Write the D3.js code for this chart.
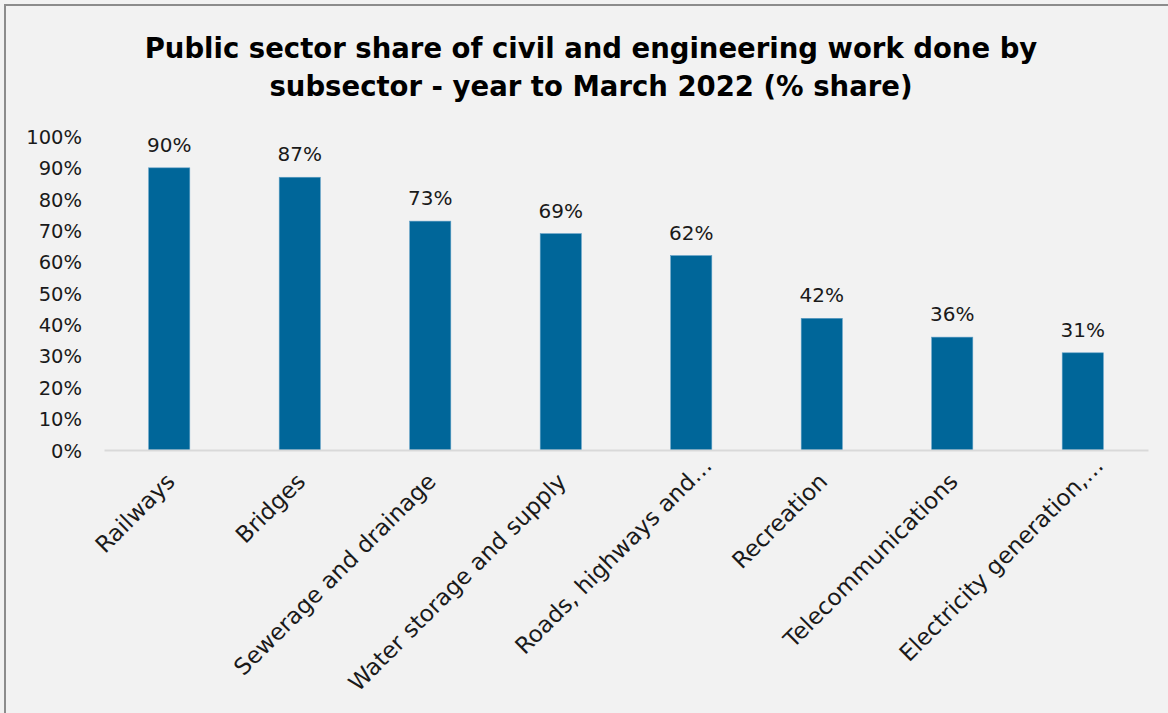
<!DOCTYPE html>
<html>
<head>
<meta charset="utf-8">
<script src="https://cdn.jsdelivr.net/npm/d3@7"></script>
<style>
  html, body { margin: 0; padding: 0; background: #f2f2f2; }
  svg { display: block; }
</style>
</head>
<body>
<svg id="chart" width="1168" height="713"></svg>
<script>
const titleLines = ["Public sector share of civil and engineering work done by", "subsector - year to March 2022 (% share)"];
const categories = ["Railways", "Bridges", "Sewerage and drainage", "Water storage and supply", "Roads, highways and\u2026", "Recreation", "Telecommunications", "Electricity generation,\u2026"];
const values = [0.90, 0.87, 0.73, 0.69, 0.62, 0.42, 0.36, 0.31];
const yTicks = [0, 0.1, 0.2, 0.3, 0.4, 0.5, 0.6, 0.7, 0.8, 0.9, 1.0];

const W = 1168, H = 713;
const font = "'DejaVu Sans', sans-serif";
const svg = d3.select("#chart");

svg.append("rect").attr("x", 0).attr("y", 0).attr("width", W).attr("height", H).attr("fill", "#f2f2f2");
svg.append("rect").attr("x", 5).attr("y", 5).attr("width", W + 20).attr("height", H + 20)
  .attr("fill", "#f2f2f2").attr("stroke", "#8c8c8c").attr("stroke-width", 2);

// title
svg.append("text")
  .attr("x", 591).attr("y", 58)
  .attr("text-anchor", "middle")
  .attr("font-family", font).attr("font-weight", "bold").attr("font-size", 27.5)
  .attr("fill", "#000")
  .selectAll("tspan").data(titleLines).join("tspan")
  .attr("x", 591).attr("dy", (d, i) => i === 0 ? 0 : 38)
  .text(d => d);

const x = d3.scaleBand().domain(categories).range([104, 1148]).paddingInner(0).paddingOuter(0);
const y = d3.scaleLinear().domain([0, 1]).range([450, 136.5]);
const barW = x.bandwidth() * 0.315;

// y axis labels
const yAxis = d3.axisLeft(y).tickValues(yTicks).tickFormat(d3.format(".0%")).tickSize(0).tickPadding(0);
const gy = svg.append("g").attr("transform", "translate(82,0)").call(yAxis);
gy.select(".domain").remove();
gy.selectAll("text").attr("font-family", font).attr("font-size", 19.5).attr("fill", "#1a1a1a").attr("dy", "0.36em");

// bars
svg.append("g").selectAll("rect").data(values).join("rect")
  .attr("x", (d, i) => x(categories[i]) + x.bandwidth() / 2 - barW / 2)
  .attr("y", d => y(d))
  .attr("width", barW)
  .attr("height", d => y(0) - y(d))
  .attr("fill", "#006699")
  .attr("stroke", "#5b9cc4").attr("stroke-width", 0.6);

// x axis line
const xAxis = d3.axisBottom(x).tickSize(0).tickFormat("");
const gx = svg.append("g").attr("transform", "translate(0,450)").call(xAxis);
gx.select(".domain").attr("stroke", "#d9d9d9").attr("stroke-width", 2);

// category labels
svg.append("g").selectAll("text").data(categories).join("text")
  .attr("transform", d => {
    const cx = x(d) + x.bandwidth() / 2 + (d.endsWith("\u2026") ? 22 : 7);
    const cy = d.endsWith("\u2026") ? 467 : 483;
    return `translate(${cx},${cy}) rotate(-45)`;
  })
  .attr("text-anchor", "end")
  .attr("font-family", font).attr("font-size", 23).attr("fill", "#1a1a1a")
  .text(d => d);

// data labels
svg.append("g").selectAll("text").data(values).join("text")
  .attr("x", (d, i) => x(categories[i]) + x.bandwidth() / 2)
  .attr("y", d => y(d) - 16)
  .attr("text-anchor", "middle")
  .attr("font-family", font).attr("font-size", 20).attr("fill", "#1a1a1a")
  .text(d => d3.format(".0%")(d));
</script>
</body>
</html>
